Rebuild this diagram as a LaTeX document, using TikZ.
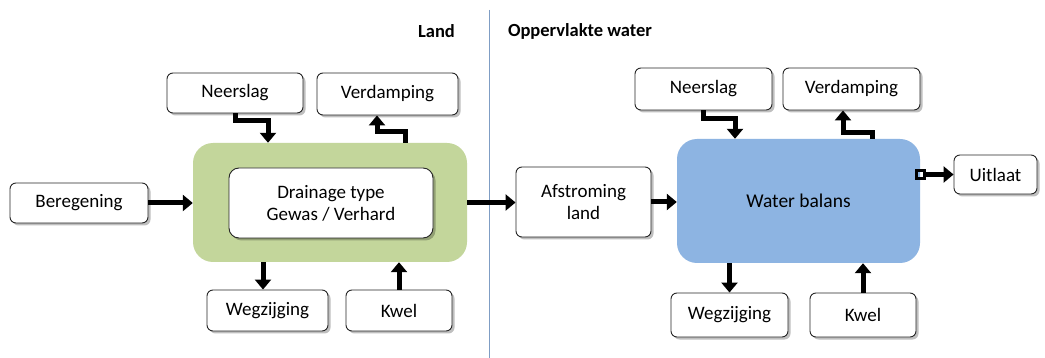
\documentclass[tikz,border=0pt]{standalone}
\usepackage{fontspec}
\setmainfont{Carlito}
\usetikzlibrary{arrows.meta,shadows,calc}
\definecolor{landgreen}{HTML}{C3D69B}
\definecolor{waterblue}{HTML}{8DB4E2}
\definecolor{divider}{HTML}{7F9DC4}
\begin{document}
\begin{tikzpicture}[x=1pt,y=-1pt,
  box/.style={draw=black!85,line width=0.9pt,fill=white,rounded corners=6pt,
    inner sep=0pt,align=center,font=\fontsize{19}{22}\selectfont,
    drop shadow={shadow xshift=2.5pt,shadow yshift=-2.5pt,fill=black,opacity=0.25}},
  region/.style={rounded corners=20pt,inner sep=0pt},
  arr/.style={line width=5pt,-{Triangle[length=10pt,width=16pt]}},
  head/.style={font=\bfseries\fontsize{18.5}{20}\selectfont}]
\useasboundingbox (0,0) rectangle (1045,358);
\fill[white] (0,0) rectangle (1045,358);

% divider and headers
\coordinate (divtop) at (489,10);
\coordinate (divbot) at (489,358);
\draw[divider,line width=1pt] (divtop) -- (divbot);
\node[head] (land) at (436.5,31) {Land};
\node[head] (opp) at (580,31) {Oppervlakte water};

% land side
\node[region,fill=landgreen,minimum width=274pt,minimum height=119pt] (green) at (330,202.5) {};
\node[box,rounded corners=10pt,minimum width=204pt,minimum height=70pt] (drain) at (331,203) {Drainage type\\Gewas / Verhard};
\node[box,minimum width=138pt,minimum height=40pt] (ber) at (79,203) {Beregening};
\node[box,minimum width=136pt,minimum height=40pt] (neer1) at (235,93) {Neerslag};
\node[box,minimum width=141pt,minimum height=42pt] (verd1) at (387.5,94) {Verdamping};
\node[box,minimum width=121pt,minimum height=41pt] (weg1) at (267.5,310.5) {Wegzijging};
\node[box,minimum width=106pt,minimum height=41pt] (kwel1) at (399,310.5) {Kwel};

% water side
\node[box,minimum width=135pt,minimum height=70pt] (afst) at (583.5,202) {Afstroming\\land};
\node[region,fill=waterblue,minimum width=243pt,minimum height=124pt,font=\fontsize{19.5}{22}\selectfont] (blue) at (798.5,201) {Water balans};
\node[box,minimum width=137pt,minimum height=42pt] (neer2) at (703.5,89) {Neerslag};
\node[box,minimum width=137pt,minimum height=42pt] (verd2) at (851.5,89) {Verdamping};
\node[box,minimum width=83pt,minimum height=39pt] (uit) at (995.5,174.5) {Uitlaat};
\node[box,minimum width=117pt,minimum height=44pt] (weg2) at (729.5,315) {Wegzijging};
\node[box,minimum width=106pt,minimum height=44pt] (kwel2) at (863,315) {Kwel};

% connectors land
\draw[arr] (ber.east) -- (ber.east -| green.west);
\draw[arr] (neer1.south) -- ++(0,7) -| ([xshift=-62pt]green.north);
\draw[arr] ([xshift=75pt]green.north) -- ++(0,-11) -| ([xshift=-10.5pt]verd1.south);
\draw[arr] ([xshift=-67pt]green.south) -- ([xshift=-67pt]green.south |- weg1.north);
\draw[arr] (kwel1.north) -- (kwel1.north |- green.south);
\draw[arr] (green.east) -- (green.east -| afst.west);

% connectors water
\draw[arr] (afst.east) -- (afst.east -| blue.west);
\draw[arr] (neer2.south) -- ++(0,8) -| ([xshift=-63.5pt]blue.north);
\draw[arr] ([xshift=73.5pt]blue.north) -- ++(0,-6) -| ([xshift=-8.5pt]verd2.south);
\draw[arr] (weg2.north |- blue.south) -- (weg2.north);
\draw[arr] (kwel2.north) -- (kwel2.north |- blue.south);
\draw[line width=5pt,{Square[open,length=11pt,width=11pt,line width=3pt]}-{Triangle[length=10pt,width=16pt]}]
  ([xshift=-5pt]blue.east |- uit.west) -- (uit.west);
\end{tikzpicture}
\end{document}
